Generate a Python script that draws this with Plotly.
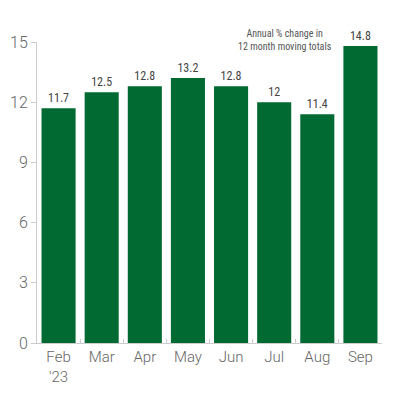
import plotly.graph_objects as go

months = ["Feb<br>'23", "Mar", "Apr", "May", "Jun", "Jul", "Aug", "Sep"]
pct_change = [11.7, 12.5, 12.8, 13.2, 12.8, 12, 11.4, 14.8]
y_ticks = [0, 3, 6, 9, 12, 15]

fig = go.Figure()
fig.add_trace(
    go.Bar(x=months,
           y=pct_change,
           marker=dict(color='#006a32', line=dict(width=0)),
           text=[str(v) for v in pct_change],
           textposition='outside',
           cliponaxis=False,
           textfont=dict(family='Liberation Sans Narrow, Roboto Condensed, Arial',
                         size=12, color='#444444')))

# page body adds an 8px offset, margins are trimmed for it
fig.update_layout(width=400, height=400,
                  paper_bgcolor='white',
                  plot_bgcolor='white',
                  showlegend=False,
                  bargap=0.21,
                  margin=dict(l=29, r=26, t=34, b=65),
                  font=dict(family='Roboto', color='#666666'))

fig.update_yaxes(range=[0, 15],
                 tickvals=y_ticks,
                 automargin=False,
                 showgrid=False,
                 zeroline=False,
                 showline=True,
                 linecolor='#cccccc',
                 linewidth=1,
                 ticks='outside',
                 ticklen=5,
                 tickcolor='#cccccc',
                 tickfont=dict(size=16, color='#666666', weight=300))

fig.update_xaxes(showgrid=False,
                 automargin=False,
                 showline=True,
                 linecolor='#cccccc',
                 linewidth=1,
                 ticks='inside',
                 tickson='boundaries',
                 ticklen=4,
                 tickcolor='#cccccc',
                 tickfont=dict(size=15, color='#666666', weight=300))

fig.add_annotation(text="Annual % change in<br>12 month moving totals",
                   x=0.72, y=1.005,
                   xref='paper', yref='paper',
                   xanchor='center', yanchor='middle',
                   showarrow=False,
                   align='center',
                   font=dict(family='Liberation Sans Narrow, Roboto Condensed, Arial',
                             size=10, color='#555555'))

fig.write_html("out.html")
